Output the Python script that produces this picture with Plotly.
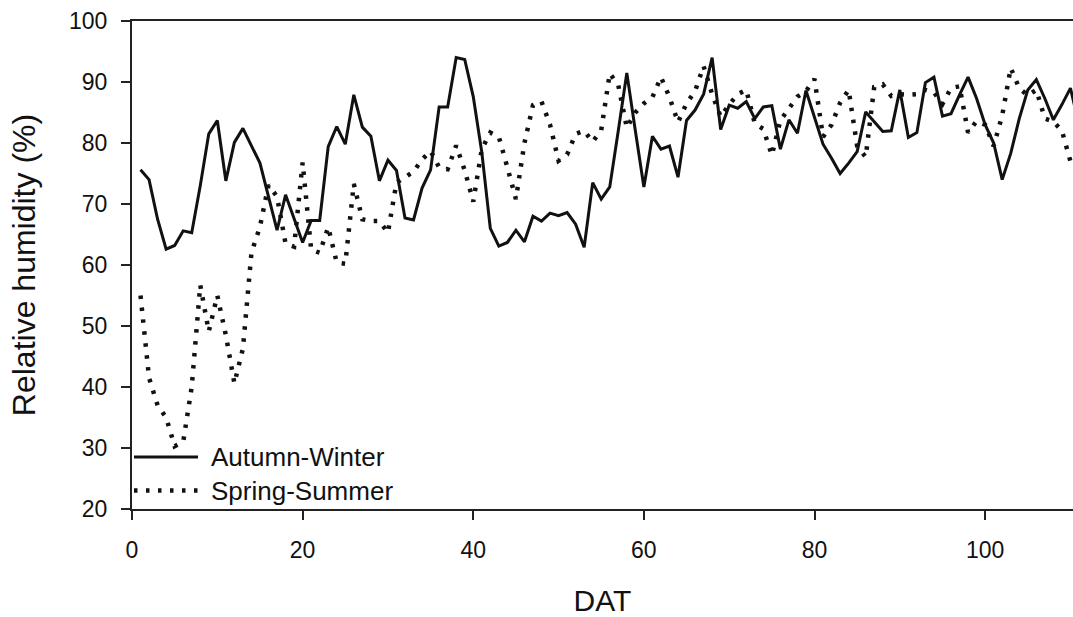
import plotly.graph_objects as go

days = list(range(1, 112))

autumn_winter = [
    75.6, 74.0, 67.5, 62.6, 63.2, 65.6, 65.3, 73.0, 81.5, 83.7,
    73.8, 80.1, 82.4, 79.6, 76.7, 71.2, 65.7, 71.5, 67.7, 63.7,
    67.3, 67.3, 79.4, 82.7, 79.8, 87.9, 82.6, 81.1, 73.8, 77.2,
    75.5, 67.7, 67.4, 72.6, 75.6, 85.9, 85.9, 94.0, 93.7, 87.6,
    78.5, 66.0, 63.1, 63.7, 65.7, 63.8, 68.0, 67.2, 68.5, 68.1,
    68.6, 66.7, 62.9, 73.5, 70.8, 72.8, 82.0, 91.5, 82.0, 72.8,
    81.1, 79.0, 79.5, 74.4, 83.7, 85.4, 88.0, 94.0, 82.2, 86.2,
    85.7, 86.8, 84.0, 85.9, 86.1, 79.0, 83.8, 81.6, 88.6, 84.2,
    79.8, 77.5, 75.0, 76.7, 78.6, 85.1, 83.5, 81.9, 82.0, 88.7,
    80.9, 81.7, 89.9, 90.8, 84.4, 84.8, 87.9, 90.8, 87.3, 83.0,
    80.0, 74.0, 78.3, 84.0, 88.7, 90.4, 87.3, 83.8, 86.3, 89.0,
    83.0,
]

spring_summer = [
    55.0, 41.5, 37.0, 35.0, 30.3, 31.0, 40.0, 56.7, 49.1, 55.0,
    48.5, 40.6, 46.3, 62.0, 66.3, 73.1, 71.2, 63.5, 63.0, 76.8,
    62.5, 62.0, 66.2, 60.4, 60.2, 73.3, 67.5, 67.2, 67.2, 65.3,
    73.5, 74.5, 75.3, 77.3, 78.7, 76.0, 75.7, 79.6, 75.5, 70.4,
    79.0, 81.7, 81.0, 76.0, 70.8, 80.0, 86.2, 86.8, 83.0, 77.1,
    78.1, 81.5, 82.0, 80.2, 82.1, 91.4, 89.5, 82.5, 85.0, 86.5,
    87.5, 90.8, 87.5, 83.4, 86.5, 88.5, 92.6, 88.0, 84.3, 86.3,
    88.0, 88.7, 83.2, 82.3, 78.0, 83.7, 85.6, 87.6, 88.5, 90.5,
    81.0, 83.0, 86.6, 88.7, 79.5, 77.7, 89.2, 89.6, 87.7, 88.0,
    87.9, 88.0, 88.7, 88.3, 86.4, 89.0, 89.3, 81.7, 83.6, 83.0,
    79.5, 84.5, 92.3, 89.0, 87.8, 88.7, 84.0, 83.5, 82.0, 77.0,
    75.0,
]

x_ticks = [0, 20, 40, 60, 80, 100]
y_ticks = [20, 30, 40, 50, 60, 70, 80, 90, 100]
series_names = ["Autumn-Winter", "Spring-Summer"]

FONT = "Arial, Liberation Sans, sans-serif"
INK = "#111111"
DOT_DASH = "3.5px,8.5px"

fig = go.Figure()
fig.add_trace(go.Scatter(
    x=days, y=autumn_winter, mode="lines", name=series_names[0],
    line=dict(color=INK, width=3), showlegend=False,
))
fig.add_trace(go.Scatter(
    x=days, y=spring_summer, mode="lines", name=series_names[1],
    line=dict(color=INK, width=4.5, dash=DOT_DASH), showlegend=False,
))

# Legend drawn inside the plot (bottom-left), like the original
W_PLOT = 1073 - 132
H_PLOT = 509 - 21
def px_x(px):
    return (px - 132) / W_PLOT
def px_y(py):
    return (509 - py) / H_PLOT

legend_rows = [(457, dict(color=INK, width=3)),
               (490.5, dict(color=INK, width=4.5, dash=DOT_DASH))]
for (py, ln), name in zip(legend_rows, series_names):
    fig.add_shape(type="line", xref="paper", yref="paper",
                  x0=px_x(134), x1=px_x(198), y0=px_y(py), y1=px_y(py), line=ln)
    fig.add_annotation(text=name, xref="paper", yref="paper",
                       x=px_x(209), y=px_y(py), xanchor="left", yanchor="middle",
                       showarrow=False, font=dict(family=FONT, size=26, color=INK))

axis_common = dict(
    showgrid=False, zeroline=False, showline=True, linecolor="#222222", linewidth=2,
    ticks="outside", ticklen=9, tickwidth=1.5, tickcolor="#222222",
    tickfont=dict(family=FONT, size=23, color=INK),
)

fig.update_layout(
    width=1073, height=617,
    margin=dict(l=132, r=0, t=21, b=108, autoexpand=False),
    paper_bgcolor="white", plot_bgcolor="white",
    showlegend=False,
    xaxis=dict(
        range=[0, 110.3], tickvals=x_ticks, mirror=True,
        title=dict(text="DAT", font=dict(family=FONT, size=30, color=INK), standoff=28),
        ticklabelstandoff=10, automargin=False,
        **axis_common,
    ),
    yaxis=dict(
        range=[20, 100], tickvals=y_ticks,
        title=dict(text="Relative humidity (%)", font=dict(family=FONT, size=32, color=INK), standoff=24),
        ticklabelstandoff=9, automargin=False,
        **axis_common,
    ),
)

fig.write_html("out.html", config={"displayModeBar": False},
               post_script="document.body.style.margin='0px';")
